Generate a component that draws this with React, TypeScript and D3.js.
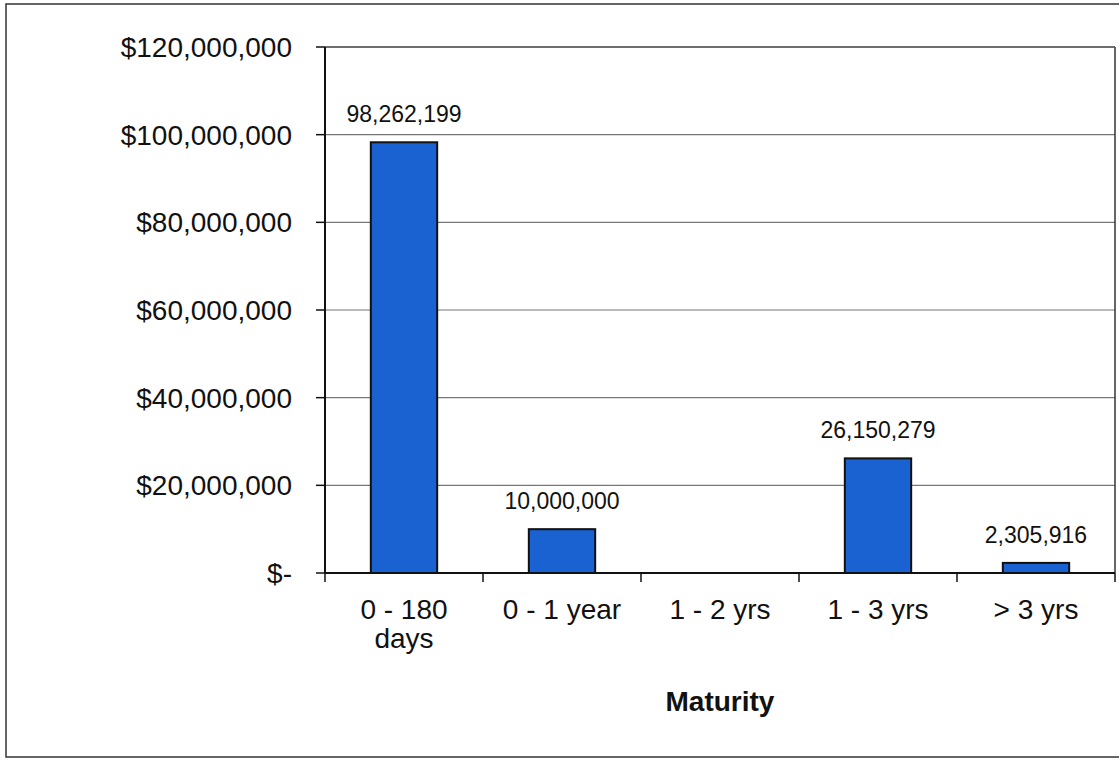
import React from "react";
import * as d3 from "d3";

const categories: string[] = ["0 - 180\ndays", "0 - 1 year", "1 - 2 yrs", "1 - 3 yrs", "> 3 yrs"];
const values: number[] = [98262199, 10000000, 0, 26150279, 2305916];
const yTicks: number[] = [0, 20000000, 40000000, 60000000, 80000000, 100000000, 120000000];
const xTitle = "Maturity";

const W = 1119;
const H = 759;
const M = { left: 325, right: 1115, top: 47, bottom: 573 };
const FONT = "Arial, 'Liberation Sans', sans-serif";
const BAR = "#1a62d2";

export default function App() {
  const x = d3.scaleBand<string>().domain(categories).range([M.left, M.right]).paddingInner(0.58).paddingOuter(0.29);
  const xOuter = d3.scaleBand<string>().domain(categories).range([M.left, M.right]);
  const y = d3.scaleLinear().domain([0, 120000000]).range([M.bottom, M.top]);
  const fmt = d3.format(",");
  const yFmt = (v: number) => (v === 0 ? "$-" : "$" + fmt(v));
  const boundaries = categories.map((c) => xOuter(c) as number).concat([M.right]);

  return (
    <svg width={W} height={H} style={{ position: "absolute", left: 0, top: 0 }} fontFamily={FONT}>
      <rect x={0} y={0} width={W} height={H} fill="#fff" />
      <rect x={6} y={4} width={W + 2} height={753} fill="none" stroke="#333" strokeWidth={1.5} />
      {/* gridlines */}
      {yTicks.filter((t) => t > 0).map((t) => (
        <line key={t} x1={M.left} x2={M.right} y1={y(t)} y2={y(t)} stroke="#777" strokeWidth={1.2} />
      ))}
      {/* plot border right */}
      <line x1={M.right} x2={M.right} y1={M.top} y2={M.bottom} stroke="#333" strokeWidth={1.5} />
      <line x1={M.left} x2={M.right} y1={M.top} y2={M.top} stroke="#555" strokeWidth={1.5} />
      {/* bars */}
      {categories.map((c, i) =>
        values[i] > 0 ? (
          <rect
            key={c}
            x={x(c)}
            y={y(values[i])}
            width={x.bandwidth()}
            height={y(0) - y(values[i])}
            fill={BAR}
            stroke="#111"
            strokeWidth={2}
          />
        ) : null
      )}
      {/* data labels */}
      {categories.map((c, i) =>
        values[i] > 0 ? (
          <text
            key={c}
            x={(x(c) as number) + x.bandwidth() / 2}
            y={y(values[i]) - 20}
            textAnchor="middle"
            fontSize={23}
            fill="#111"
          >
            {fmt(values[i])}
          </text>
        ) : null
      )}
      {/* y axis */}
      <line x1={M.left} x2={M.left} y1={M.top} y2={M.bottom} stroke="#111" strokeWidth={2} />
      {yTicks.map((t) => (
        <g key={t}>
          <line x1={M.left - 9} x2={M.left} y1={y(t)} y2={y(t)} stroke="#111" strokeWidth={1.5} />
          <text x={292} y={y(t)} dy="0.36em" textAnchor="end" fontSize={28} fill="#111">
            {yFmt(t)}
          </text>
        </g>
      ))}
      {/* x axis */}
      <line x1={M.left} x2={M.right} y1={M.bottom} y2={M.bottom} stroke="#111" strokeWidth={2} />
      {boundaries.map((b, i) => (
        <line key={i} x1={b} x2={b} y1={M.bottom} y2={M.bottom + 9} stroke="#111" strokeWidth={1.5} />
      ))}
      {categories.map((c) => (
        <text
          key={c}
          x={(xOuter(c) as number) + xOuter.bandwidth() / 2}
          y={619}
          textAnchor="middle"
          fontSize={28}
          fill="#111"
        >
          {c.split("\n").map((line, j) => (
            <tspan key={j} x={(xOuter(c) as number) + xOuter.bandwidth() / 2} dy={j === 0 ? 0 : 29}>
              {line}
            </tspan>
          ))}
        </text>
      ))}
      <text x={(M.left + M.right) / 2} y={711} textAnchor="middle" fontSize={28} fontWeight="bold" fill="#111">
        {xTitle}
      </text>
    </svg>
  );
}
